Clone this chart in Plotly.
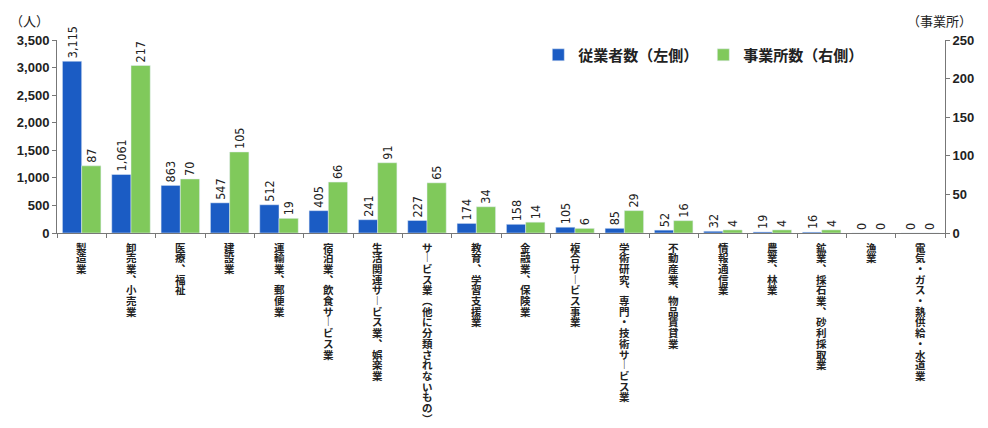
import plotly.graph_objects as go

categories = [
    "製造業", "卸売業、小売業", "医療、福祉", "建設業", "運輸業、郵便業",
    "宿泊業、飲食サービス業", "生活関連サービス業、娯楽業", "サービス業（他に分類されないもの）",
    "教育、学習支援業", "金融業、保険業", "複合サービス事業", "学術研究、専門・技術サービス業",
    "不動産業、物品賃貸業", "情報通信業", "農業、林業", "鉱業、採石業、砂利採取業",
    "漁業", "電気・ガス・熱供給・水道業",
]
employees = [3115, 1061, 863, 547, 512, 405, 241, 227, 174, 158, 105, 85, 52, 32, 19, 16, 0, 0]
establishments = [87, 217, 70, 105, 19, 66, 91, 65, 34, 14, 6, 29, 16, 4, 4, 4, 0, 0]
left_ticks = [0, 500, 1000, 1500, 2000, 2500, 3000, 3500]
right_ticks = [0, 50, 100, 150, 200, 250]

BLUE = "#1b5cc4"
GREEN = "#80c95b"
TXT = "#222222"
NARROW = "Liberation Sans Narrow, DejaVu Sans Condensed, Arial Narrow, sans-serif"
CJK = "Noto Sans CJK JP"

# vertical presentation forms for vertical writing
VMAP = {"ー": "︱", "（": "︵", "）": "︶", "、": "︑"}

fig = go.Figure()
fig.add_trace(go.Bar(
    x=categories, y=employees, name="従業者数（左側）", marker_color=BLUE,
    width=0.39, offset=-0.39, yaxis="y",
    text=[f"{v:,}" for v in employees], textposition="outside", textangle=-90,
    constraintext="none", cliponaxis=False,
    textfont=dict(family=NARROW, size=12.5, color=TXT),
))
fig.add_trace(go.Bar(
    x=categories, y=establishments, name="事業所数（右側）", marker_color=GREEN,
    width=0.39, offset=0.0, yaxis="y2",
    text=[f"{v:,}" for v in establishments], textposition="outside", textangle=-90,
    constraintext="none", cliponaxis=False,
    textfont=dict(family=NARROW, size=12.5, color=TXT),
))

for cat in categories:
    for i, ch in enumerate(cat):
        fig.add_annotation(
            x=cat, xref="x", y=0, yref="paper", yanchor="middle", xanchor="center",
            yshift=-(14 + i * 10.7), text=VMAP.get(ch, ch), showarrow=False,
            font=dict(family=CJK, size=10.5, color=TXT, weight="bold"),
        )

fig.add_annotation(x=0, y=1, xref="paper", yref="paper", xshift=-28, yshift=31,
                   text="（人）", showarrow=False, xanchor="center", yanchor="top",
                   font=dict(family=CJK, size=13, color=TXT))
fig.add_annotation(x=1, y=1, xref="paper", yref="paper", xshift=-40, yshift=31,
                   text="（事業所）", showarrow=False, xanchor="left", yanchor="top",
                   font=dict(family=CJK, size=13, color=TXT))

fig.update_layout(
    width=980, height=420,
    margin=dict(l=49, r=43, t=32, b=195),
    paper_bgcolor="white", plot_bgcolor="white",
    barmode="overlay",
    showlegend=True,
    legend=dict(orientation="h", x=0.542, y=0.922, xanchor="left", yanchor="middle",
                font=dict(family=CJK, size=15, color=TXT, weight="bold"),
                itemwidth=30, bgcolor="rgba(0,0,0,0)"),
    xaxis=dict(showticklabels=False, tickson="boundaries", ticks="outside", ticklen=4,
               tickcolor="#777", showline=True, linecolor="#777", linewidth=1,
               showgrid=False, automargin=False, range=[-0.5, len(categories) - 0.5]),
    yaxis=dict(range=[0, 3500], tickvals=left_ticks, tickformat=",", ticks="outside",
               ticklen=4, tickcolor="#777", showline=True, linecolor="#777",
               showgrid=False, zeroline=False, automargin=False,
               tickfont=dict(family="Liberation Sans", size=13, color=TXT, weight="bold")),
    yaxis2=dict(range=[0, 250], tickvals=right_ticks, overlaying="y", side="right",
                ticks="outside", ticklen=4, tickcolor="#777", showline=True,
                linecolor="#777", showgrid=False, zeroline=False, automargin=False,
                tickfont=dict(family="Liberation Sans", size=13, color=TXT, weight="bold")),
)

fig.write_html("out.html")
